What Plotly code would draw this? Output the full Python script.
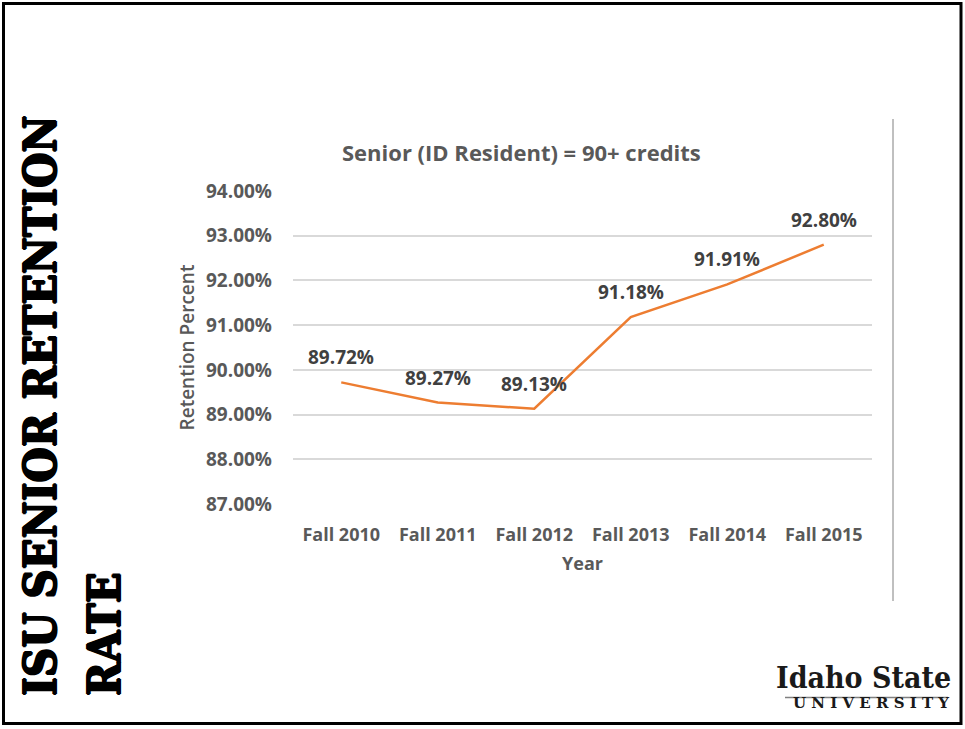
import plotly.graph_objects as go

categories = ["Fall 2010", "Fall 2011", "Fall 2012", "Fall 2013", "Fall 2014", "Fall 2015"]
retention = [89.72, 89.27, 89.13, 91.18, 91.91, 92.80]
y_ticks = [87, 88, 89, 90, 91, 92, 93, 94]
y_tick_labels = [f"{v:.2f}%" for v in y_ticks]

W, H = 965, 729
L, R, T, B = 293, 872, 191, 504

def px(x):
    return (x - L) / (R - L)

def py(y):
    return (B - y) / (B - T)

SANS = "Open Sans"
SERIF = "DejaVu Serif Condensed, DejaVu Serif"
THICK = "1px 0px 0px #000, -1px 0px 0px #000, 0px 1px 0px #000, 0px -1px 0px #000"

fig = go.Figure()
fig.add_trace(go.Scatter(
    x=categories, y=retention, mode="lines",
    line=dict(color="#ED7D31", width=2.5),
    hoverinfo="skip", showlegend=False,
))

for c, v in zip(categories, retention):
    fig.add_annotation(
        x=c, y=v, xref="x", yref="y", text=f"{v:.2f}%", showarrow=False,
        yshift=25, font=dict(family=SANS, size=19, color="#404040", weight=700),
    )

fig.add_annotation(
    x=px(521.5), y=py(152), xref="paper", yref="paper", text="Senior (ID Resident) = 90+ credits",
    showarrow=False, xanchor="center", yanchor="middle",
    font=dict(family=SANS, size=22, color="#595959", weight=700),
)

# left vertical slide title
fig.add_annotation(
    x=px(40), y=py(698), xref="paper", yref="paper", text="ISU SENIOR RETENTION",
    textangle=-90, showarrow=False, xanchor="center", yanchor="bottom",
    font=dict(family=SERIF, size=45, color="#000000", weight=900, shadow=THICK),
)
fig.add_annotation(
    x=px(104), y=py(698), xref="paper", yref="paper", text="RATE",
    textangle=-90, showarrow=False, xanchor="center", yanchor="bottom",
    font=dict(family=SERIF, size=45, color="#000000", weight=900, shadow=THICK),
)

# logo
fig.add_annotation(
    x=px(953), y=py(697), xref="paper", yref="paper", text="Idaho State",
    showarrow=False, xanchor="right", yanchor="bottom",
    font=dict(family=SERIF, size=30, color="#1a1a1a", weight=700),
)
fig.add_annotation(
    x=px(951), y=py(714), xref="paper", yref="paper", text="U N I V E R S I T Y",
    showarrow=False, xanchor="right", yanchor="bottom",
    font=dict(family="DejaVu Serif", size=15, color="#1a1a1a", weight=900),
)

shapes = [
    dict(type="rect", xref="paper", yref="paper", x0=px(3.5), x1=px(961), y0=py(3.5), y1=py(723.5),
         line=dict(color="#000000", width=3)),
    dict(type="line", xref="paper", yref="paper", x0=px(893), x1=px(893), y0=py(119), y1=py(601),
         line=dict(color="#808080", width=1)),
    dict(type="line", xref="paper", yref="paper", x0=px(785), x1=px(948), y0=py(697.5), y1=py(697.5),
         line=dict(color="#808080", width=1.5)),
]

fig.update_layout(
    width=W, height=H,
    margin=dict(l=L, r=W - R, t=T, b=H - B, autoexpand=False),
    paper_bgcolor="white", plot_bgcolor="white",
    shapes=shapes,
    xaxis=dict(
        type="category", range=[-0.5, len(categories) - 0.5],
        showgrid=False, showline=False, zeroline=False, ticks="",
        ticklabelstandoff=18,
        tickfont=dict(family=SANS, size=18, color="#595959", weight=700),
        title=dict(text="Year", standoff=12,
                   font=dict(family=SANS, size=18, color="#595959", weight=700)),
    ),
    yaxis=dict(
        range=[87, 94], tickvals=y_ticks, ticktext=y_tick_labels,
        showgrid=True, gridcolor="#D9D9D9", gridwidth=1.5, zeroline=False, showline=False,
        ticks="", ticklabelstandoff=20,
        tickfont=dict(family=SANS, size=19, color="#595959", weight=700),
        title=dict(text="Retention Percent", standoff=6,
                   font=dict(family=SANS, size=19, color="#595959", weight=600)),
    ),
)

fig.write_html(
    "out.html",
    config={"displayModeBar": False},
    post_script="document.body.style.margin='0px';document.body.style.overflow='hidden';",
)
